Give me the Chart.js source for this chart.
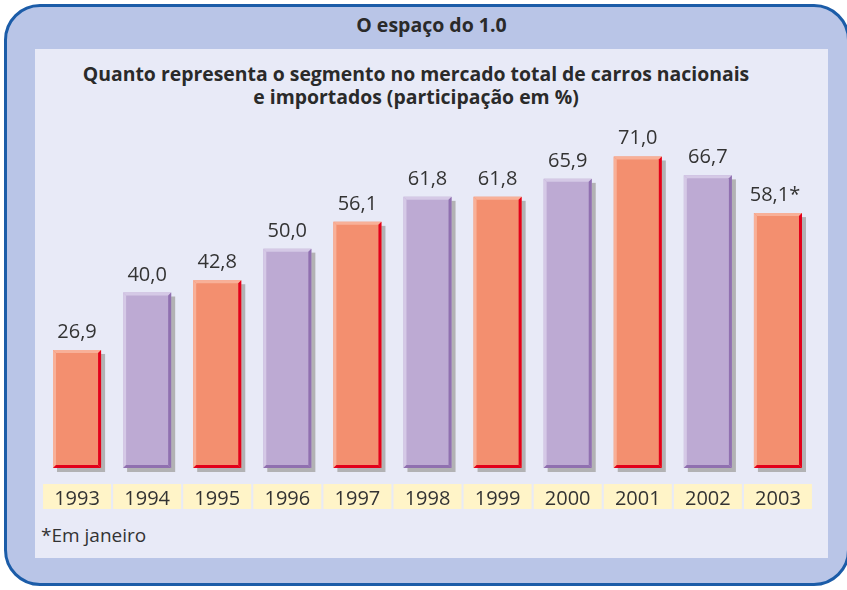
<!DOCTYPE html>
<html>
<head>
<meta charset="utf-8">
<script src="https://cdn.jsdelivr.net/npm/chart.js@4"></script>
<style>
  html, body { margin: 0; padding: 0; background: #fff; }
  body { width: 847px; height: 590px; position: relative; overflow: hidden; font-family: "Open Sans", sans-serif; color: #333; }
  .frame { position: absolute; left: 4px; top: 4px; width: 846px; height: 582px; box-sizing: border-box;
           border: 3px solid #1b5ca8; border-radius: 36px; background: #b9c5e7; }
  .panel { position: absolute; left: 35px; top: 49px; width: 793px; height: 509px; background: #e8eaf7; }
  .head { position: absolute; left: 0; width: 847px; text-align: center; font-weight: 700; color: #2a2a2a; }
  #title { top: 14px; font-size: 19.5px; line-height: 22px; left: 8px; }
  #sub { top: 62px; font-size: 19.4px; line-height: 23px; width: 832px; }
  #note { position: absolute; left: 41px; top: 524px; font-size: 19px; line-height: 22px; }
  canvas { position: absolute; left: 0; top: 0; }
</style>
</head>
<body>
<div class="frame"></div>
<div class="panel"></div>
<div class="head" id="title">O espaço do 1.0</div>
<div class="head" id="sub">Quanto representa o segmento no mercado total de carros nacionais<br>e importados (participação em %)</div>
<div id="note">*Em janeiro</div>
<canvas id="chart" width="847" height="590"></canvas>
<script>
const years = ['1993', '1994', '1995', '1996', '1997', '1998', '1999', '2000', '2001', '2002', '2003'];
const shares = [26.9, 40.0, 42.8, 50.0, 56.1, 61.8, 61.8, 65.9, 71.0, 66.7, 58.1];
const notes = ['', '', '', '', '', '', '', '', '', '', '*'];

// orange / purple alternating
const bodyCol = ['#f38f6f', '#bdaad3'];
const lightCol = ['#f8b098', '#d5c9e6'];
const darkCol = ['#e2001a', '#9070b0'];

function poly(ctx, pts, color) {
  ctx.fillStyle = color;
  ctx.beginPath();
  ctx.moveTo(pts[0][0], pts[0][1]);
  for (let i = 1; i < pts.length; i++) ctx.lineTo(pts[i][0], pts[i][1]);
  ctx.closePath();
  ctx.fill();
}

const bevelBars = {
  id: 'bevelBars',
  beforeDatasetsDraw(chart) {
    const ctx = chart.ctx;
    const meta = chart.getDatasetMeta(0);
    ctx.save();
    // year boxes
    meta.data.forEach((bar, i) => {
      ctx.fillStyle = '#fff4c8';
      ctx.fillRect(bar.x - 34, 484, 68, 25);
      ctx.fillStyle = '#333';
      ctx.font = '20px "Open Sans"';
      ctx.textAlign = 'center';
      ctx.textBaseline = 'alphabetic';
      ctx.fillText(years[i], bar.x, 505);
    });
    // shadows
    meta.data.forEach((bar) => {
      const L = bar.x - bar.width / 2, T = bar.y;
      ctx.fillStyle = '#b2b2b4';
      ctx.fillRect(L + 4, T + 4, bar.width, bar.base - T);
    });
    ctx.restore();
  },
  afterDatasetsDraw(chart) {
    const ctx = chart.ctx;
    const meta = chart.getDatasetMeta(0);
    const e = 3;
    ctx.save();
    meta.data.forEach((bar, i) => {
      const k = i % 2;
      const L = bar.x - bar.width / 2, R = bar.x + bar.width / 2;
      const T = bar.y, B = bar.base;
      poly(ctx, [[L, T], [R, T], [R - e, T + e], [L + e, T + e]], lightCol[k]);
      poly(ctx, [[L, T], [L + e, T + e], [L + e, B - e], [L, B]], lightCol[k]);
      poly(ctx, [[R, T], [R, B], [R - e, B - e], [R - e, T + e]], darkCol[k]);
      poly(ctx, [[L, B], [R, B], [R - e, B - e], [L + e, B - e]], darkCol[k]);
      // value label
      ctx.fillStyle = '#333';
      ctx.font = '20px "Open Sans"';
      ctx.textAlign = 'center';
      ctx.textBaseline = 'alphabetic';
      const txt = shares[i].toFixed(1).replace('.', ',') + notes[i];
      ctx.fillText(txt, bar.x + (notes[i] ? -3 : 0), T - 12);
    });
    ctx.restore();
  }
};

new Chart(document.getElementById('chart'), {
  type: 'bar',
  data: {
    labels: years,
    datasets: [{
      data: shares,
      backgroundColor: shares.map((v, i) => bodyCol[i % 2]),
      borderWidth: 0,
      barPercentage: 0.686,
      categoryPercentage: 1
    }]
  },
  options: {
    responsive: false,
    animation: false,
    layout: { padding: { left: 42, right: 34, top: 117, bottom: 122 } },
    plugins: { legend: { display: false }, tooltip: { enabled: false }, title: { display: false } },
    scales: {
      x: { display: false },
      y: { display: false, min: 0, max: 80 }
    }
  },
  plugins: [bevelBars]
});
</script>
</body>
</html>
